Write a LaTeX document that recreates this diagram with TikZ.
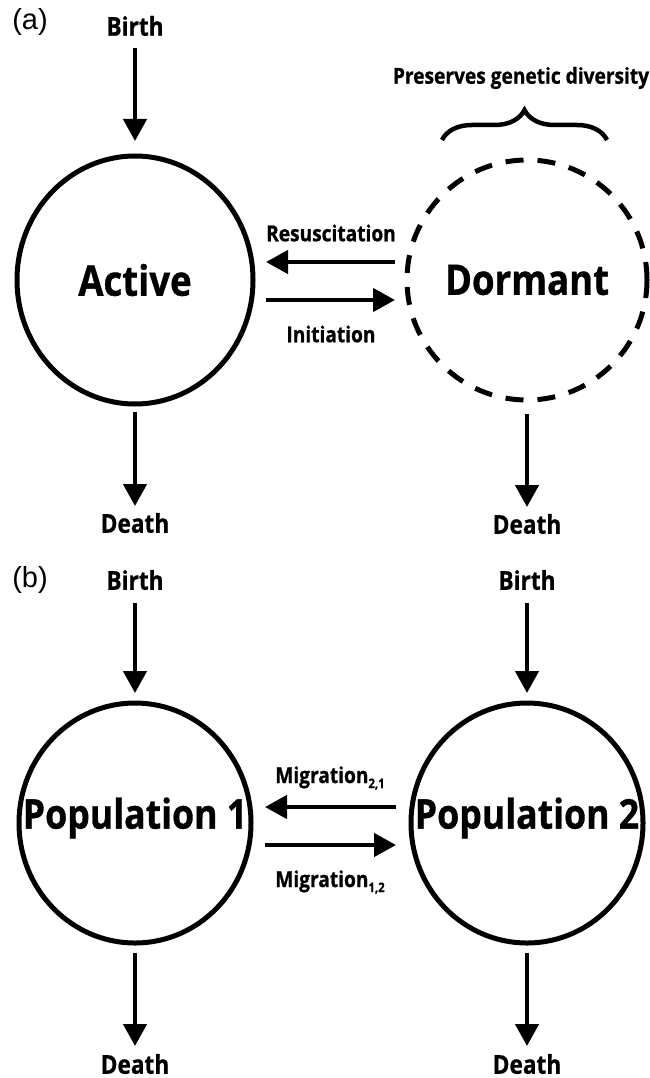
\documentclass[tikz,border=0pt]{standalone}
\usepackage{fontspec}
\newfontfamily\lab[FakeStretch=0.87,BoldFeatures={FakeBold=0.8}]{Open Sans}
\newfontfamily\helv{Liberation Sans}
\usetikzlibrary{arrows.meta,shapes.geometric,decorations.pathreplacing}
\begin{document}
\begin{tikzpicture}[x=1pt,y=-1pt,
  txt/.style={inner sep=0pt,outer sep=0pt,font=\lab\bfseries\fontsize{#1}{#1}\selectfont},
  txt/.default=26,
  panel/.style={inner sep=0pt,outer sep=0pt,font=\helv\fontsize{29}{29}\selectfont},
  ell/.style={ellipse,draw,line width=5pt,inner sep=0pt,outer sep=0pt},
  arr/.style={line width=4.5pt,-{Triangle[length=22pt,width=23pt]}},
  brc/.style={line width=4.5pt,decorate,decoration={brace,amplitude=30pt,aspect=0.5}}]
\useasboundingbox (0,0) rectangle (649,1078);
% ---------- panel (a)
\node[panel] (la) at (30,22) {(a)};
\node[txt] (birthA) at (135,26) {Birth};
\node[ell,minimum width=236pt,minimum height=248pt] (active) at (135,280) {};
\node[txt=42] (activeT) at (active) {Active};
\node[ell,dashed,dash pattern=on 18pt off 14pt,minimum size=240pt] (dormant) at (527,280) {};
\node[txt=42] (dormantT) at (dormant) {Dormant};
\node[txt=22] (pres) at (521,78) {Preserves genetic diversity};
\coordinate (bl) at (442,140);
\coordinate (br) at (607,140);
\draw[brc] (bl) -- (br);
\node[txt=22] (resT) at (331,233) {Resuscitation};
\node[txt=22] (iniT) at (331,334) {Initiation};
\node[txt] (deathA) at (135,523) {Death};
\node[txt] (deathD) at (527,524) {Death};
\draw[arr] ([yshift=-12pt]birthA.south) -- ([yshift=15pt]active.north);
\draw[arr] ([shift={(-12pt,18pt)}]dormant.west) -- ([shift={(13pt,18pt)}]active.east);
\draw[arr] ([shift={(13pt,-20pt)}]active.east) -- ([shift={(-12pt,-20pt)}]dormant.west);
\draw[arr] ([yshift=-8pt]active.south) -- ([yshift=7pt]deathA.north);
\draw[arr] ([yshift=-14pt]dormant.south) -- ([yshift=7pt]deathD.north);
% ---------- panel (b)
\node[panel] (lb) at (30,580) {(b)};
\node[txt] (birthB1) at (135,580) {Birth};
\node[txt] (birthB2) at (527,580) {Birth};
\node[ell,minimum width=232pt,minimum height=240pt] (pop1) at (135,823) {};
\node[ell,minimum width=232pt,minimum height=240pt] (pop2) at (527,823) {};
\node[txt=41] (pop1T) at (135,818) {Population 1};
\node[txt=41] (pop2T) at (527,818) {Population 2};
\node[txt=22] (mig21) at (330,778) {Migration\raisebox{-5pt}{\fontsize{13}{13}\selectfont 2,1}};
\node[txt=22] (mig12) at (330,882) {Migration\raisebox{-5pt}{\fontsize{13}{13}\selectfont 1,2}};
\node[txt] (deathB1) at (135,1064) {Death};
\node[txt] (deathB2) at (527,1064) {Death};
\draw[arr] ([yshift=-13pt]birthB1.south) -- ([yshift=10pt]pop1.north);
\draw[arr] ([yshift=-13pt]birthB2.south) -- ([yshift=10pt]pop2.north);
\draw[arr] ([shift={(-15pt,16pt)}]pop2.west) -- ([shift={(14pt,16pt)}]pop1.east);
\draw[arr] ([shift={(14pt,-22pt)}]pop1.east) -- ([shift={(-15pt,-22pt)}]pop2.west);
\draw[arr] ([yshift=-10pt]pop1.south) -- ([yshift=8pt]deathB1.north);
\draw[arr] ([yshift=-10pt]pop2.south) -- ([yshift=8pt]deathB2.north);
\end{tikzpicture}
\end{document}
